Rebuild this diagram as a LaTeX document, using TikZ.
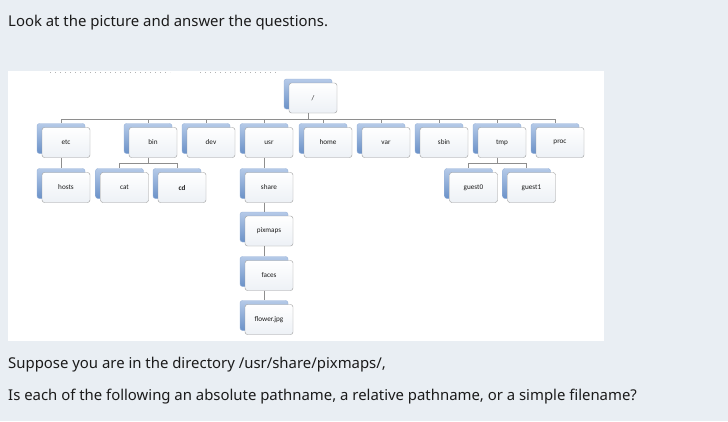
\documentclass[tikz,border=0pt]{standalone}
\usepackage{fontspec}
\setmainfont{Noto Sans}
\newfontfamily\boxfont{Carlito}
\usetikzlibrary{shadows}
\definecolor{bg}{HTML}{E9EEF3}
\definecolor{txt}{HTML}{1B1B1B}
\definecolor{lnk}{HTML}{8E8E8E}
\definecolor{shtop}{HTML}{B5CAE8}
\definecolor{shbot}{HTML}{6A91C8}
\definecolor{bxbrd}{HTML}{9A9A9A}
\definecolor{bxbot}{HTML}{EDF1F6}
\begin{document}
\begin{tikzpicture}[x=1pt,y=-1pt,
nd/.style = {draw=bxbrd,rounded corners=2.5pt,minimum width=48pt,minimum height=30pt,inner sep=0pt,
  top color=white,bottom color=bxbot,text=txt,font=\boxfont\fontsize{7.2}{8}\selectfont,
  general shadow={shadow xshift=-5pt,shadow yshift=4pt,draw=shbot!70,top color=shtop,bottom color=shbot}},
edg/.style = {draw,lnk,line width=0.8pt},
qst/.style = {anchor=base west,inner sep=0pt,text=txt,font=\fontsize{14.9}{18}\selectfont}
]
  \fill[bg] (0,0) rectangle (728,421);
  \fill[white] (8,71) rectangle (604,341);
  \path[draw=gray!60,dash pattern=on 1pt off 4pt,line width=0.8pt] (50,72) -- (170,72);
  \path[draw=gray!60,dash pattern=on 1pt off 4pt,line width=0.8pt] (200,72) -- (276,72);

  \node[qst] (ask) at (8,26) {Look at the picture and answer the questions.};

  \node[nd] (root) at (313,98) {/};

  \node[nd] (etc) at (66,142.5) {etc};
  \node[nd] (bin) at (153,142.5) {bin};
  \node[nd] (dev) at (211,142.5) {dev};
  \node[nd] (usr) at (269,142.5) {usr};
  \node[nd] (home) at (328,142.5) {home};
  \node[nd] (var) at (386,142.5) {var};
  \node[nd] (sbin) at (444,142.5) {sbin};
  \node[nd] (tmp) at (502,142.5) {tmp};
  \node[nd] (proc) at (560,142.5) {proc};

  \node[nd] (hosts) at (66,187.5) {hosts};
  \node[nd] (cat) at (124.5,187.5) {cat};
  \node[nd] (cd) at (182,187.5) {\bfseries cd};
  \node[nd] (share) at (269,187.5) {share};
  \node[nd] (guest0) at (473.5,187.5) {guest0};
  \node[nd] (guest1) at (531.5,187.5) {guest1};

  \node[nd] (pixmaps) at (269,231) {pixmaps};
  \node[nd] (faces) at (269,275.5) {faces};
  \node[nd] (flower) at (269,319.5) {flower.jpg};

  \path[edg] ([xshift=-5pt]root.south) -- ++(0,6) -| ([xshift=-5pt,yshift=4pt]etc.north);
  \path[edg] ([xshift=-5pt]root.south) -- ++(0,6) -| ([xshift=-5pt,yshift=4pt]bin.north);
  \path[edg] ([xshift=-5pt]root.south) -- ++(0,6) -| ([xshift=-5pt,yshift=4pt]dev.north);
  \path[edg] ([xshift=-5pt]root.south) -- ++(0,6) -| ([xshift=-5pt,yshift=4pt]usr.north);
  \path[edg] ([xshift=-5pt]root.south) -- ++(0,6) -| ([xshift=-5pt,yshift=4pt]home.north);
  \path[edg] ([xshift=-5pt]root.south) -- ++(0,6) -| ([xshift=-5pt,yshift=4pt]var.north);
  \path[edg] ([xshift=-5pt]root.south) -- ++(0,6) -| ([xshift=-5pt,yshift=4pt]sbin.north);
  \path[edg] ([xshift=-5pt]root.south) -- ++(0,6) -| ([xshift=-5pt,yshift=4pt]tmp.north);
  \path[edg] ([xshift=-5pt]root.south) -- ++(0,6) -| ([xshift=-5pt,yshift=4pt]proc.north);

  \path[edg] ([xshift=-5pt]etc.south) -- ([xshift=-5pt,yshift=4pt]hosts.north);
  \path[edg] ([xshift=-5pt]bin.south) -- ++(0,5.5) -| ([xshift=-5pt,yshift=4pt]cat.north);
  \path[edg] ([xshift=-5pt]bin.south) -- ++(0,5.5) -| ([xshift=-5pt,yshift=4pt]cd.north);
  \path[edg] ([xshift=-5pt]tmp.south) -- ++(0,5.5) -| ([xshift=-5pt,yshift=4pt]guest0.north);
  \path[edg] ([xshift=-5pt]tmp.south) -- ++(0,5.5) -| ([xshift=-5pt,yshift=4pt]guest1.north);
  \path[edg] ([xshift=-5pt]usr.south) -- ([xshift=-5pt,yshift=4pt]share.north);
  \path[edg] ([xshift=-5pt]share.south) -- ([xshift=-5pt,yshift=4pt]pixmaps.north);
  \path[edg] ([xshift=-5pt]pixmaps.south) -- ([xshift=-5pt,yshift=4pt]faces.north);
  \path[edg] ([xshift=-5pt]faces.south) -- ([xshift=-5pt,yshift=4pt]flower.north);

  \node[qst] (dir) at (8,368) {Suppose you are in the directory /usr/share/pixmaps/,};
  \node[qst] (kind) at (8,400) {Is each of the following an absolute pathname, a relative pathname, or a simple filename?};
\end{tikzpicture}
\end{document}
